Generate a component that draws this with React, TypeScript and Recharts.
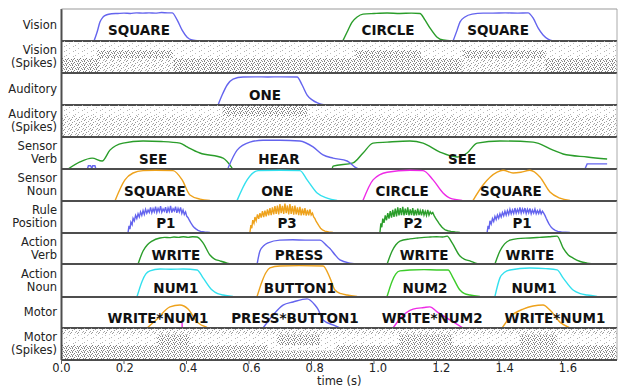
import {
  Line,
  LineChart,
  ReferenceArea,
  ReferenceDot,
  ReferenceLine,
  XAxis,
  YAxis,
} from "recharts";

type Pt = [number, number];
type Word = [number, string];
// [t start, t end, first neuron row, last neuron row, density level]
type Block = [number, number, number, number, number];

const W = 619;
const X_MAX = 1.7776;
const TICKS = [0, 0.2, 0.4, 0.6, 0.8, 1.0, 1.2, 1.4, 1.6];
// tick labels drift slightly right of their ticks in the reference (px per second)
const LABEL_DRIFT = 4;

const BLUE = "#6464ee";
const GREEN = "#2a9d2a";
const ORANGE = "#eea21c";
const CYAN = "#33e0ee";
const MAGENTA = "#ee2ae6";
const LIME = "#3ccc2a";

// ---- Vision ----
const visionSquare1: Pt[] = [[0.104,0],[0.114,0.28],[0.123,0.59],[0.133,0.75],[0.145,0.82],[0.16,0.85],[0.18,0.86],[0.2,0.87],[0.22,0.86],[0.24,0.88],[0.26,0.87],[0.28,0.88],[0.3,0.87],[0.32,0.89],[0.34,0.88],[0.354,0.88],[0.37,0.66],[0.386,0.34],[0.402,0.12],[0.418,0.03],[0.44,0]];
const visionCircle: Pt[] = [[0.9,0],[0.914,0.28],[0.93,0.59],[0.946,0.75],[0.965,0.84],[1.0,0.86],[1.042,0.875],[1.083,0.86],[1.12,0.87],[1.147,0.86],[1.163,0.66],[1.179,0.41],[1.202,0.12],[1.221,0.03],[1.25,0]];
const visionSquare2: Pt[] = [[1.253,0],[1.266,0.34],[1.275,0.59],[1.291,0.75],[1.314,0.84],[1.349,0.87],[1.38,0.87],[1.42,0.88],[1.46,0.87],[1.493,0.88],[1.509,0.72],[1.525,0.41],[1.541,0.19],[1.557,0.06],[1.573,0]];
const visionWords: Word[] = [[0.248,"SQUARE"],[1.045,"CIRCLE"],[1.397,"SQUARE"]];

// ---- Auditory ----
const auditoryOne: Pt[] = [[0.501,0],[0.514,0.31],[0.53,0.625],[0.549,0.81],[0.581,0.875],[0.62,0.88],[0.66,0.875],[0.7,0.88],[0.754,0.875],[0.77,0.625],[0.786,0.31],[0.802,0.16],[0.821,0.06],[0.843,0]];
const auditoryWords: Word[] = [[0.651,"ONE"]];

// ---- Sensor Verb ----
const svSee1: Pt[] = [[0.021,0],[0.059,0.22],[0.098,0.34],[0.13,0.25],[0.155,0.59],[0.197,0.81],[0.261,0.875],[0.32,0.86],[0.379,0.81],[0.402,0.69],[0.443,0.5],[0.517,0.34],[0.546,0.03]];
const svSee2: Pt[] = [[0.866,0],[0.869,0.09],[0.933,0.19],[0.965,0.5],[0.997,0.81],[1.042,0.84],[1.115,0.875],[1.157,0.81],[1.211,0.53],[1.266,0.375],[1.298,0.5],[1.33,0.81],[1.403,0.875],[1.509,0.84],[1.573,0.59],[1.605,0.47],[1.682,0.375],[1.746,0.31]];
const svHear: Pt[] = [[0.533,0.03],[0.562,0.59],[0.603,0.84],[0.645,0.9],[0.7,0.9],[0.763,0.875],[0.805,0.69],[0.837,0.44],[0.869,0.34],[0.914,0.25],[0.939,0.06],[0.95,0]];
const svBlip: Pt[] = [[0.083,0],[0.086,0.1],[0.093,0.1],[0.097,0.02],[0.1,0.1],[0.107,0.1],[0.11,0]];
const svTail: Pt[] = [[1.675,0],[1.682,0.16],[1.746,0.16]];
const sensorVerbWords: Word[] = [[0.293,"SEE"],[0.696,"HEAR"],[1.282,"SEE"]];

// ---- Sensor Noun ----
const snSquare1: Pt[] = [[0.171,0],[0.203,0.66],[0.229,0.875],[0.261,0.95],[0.3,0.96],[0.357,0.95],[0.386,0.66],[0.411,0.19],[0.443,0.06],[0.475,0.02]];
const snOne: Pt[] = [[0.562,0.02],[0.594,0.66],[0.629,0.95],[0.7,0.96],[0.763,0.95],[0.786,0.66],[0.818,0.25],[0.85,0.09],[0.882,0.02]];
const snCircle: Pt[] = [[0.965,0.02],[0.997,0.66],[1.042,0.9],[1.115,0.96],[1.157,0.95],[1.189,0.66],[1.221,0.25],[1.243,0.09],[1.282,0.02]];
const snSquare2: Pt[] = [[1.317,0.02],[1.349,0.5],[1.394,0.9],[1.413,0.96],[1.445,0.875],[1.47,0.9],[1.499,0.96],[1.531,0.75],[1.563,0.28],[1.595,0.09],[1.627,0.02]];
const sensorNounWords: Word[] = [[0.299,"SQUARE"],[0.69,"ONE"],[1.09,"CIRCLE"],[1.438,"SQUARE"]];

// ---- Rule Position (noisy) ----
const rpP1a: Pt[] = [[0.213,0.02],[0.216,0.22],[0.219,0.12],[0.222,0.34],[0.226,0.26],[0.229,0.46],[0.233,0.38],[0.237,0.55],[0.241,0.45],[0.245,0.6],[0.249,0.5],[0.253,0.66],[0.257,0.55],[0.261,0.7],[0.265,0.58],[0.269,0.74],[0.273,0.62],[0.277,0.72],[0.281,0.64],[0.285,0.8],[0.289,0.63],[0.293,0.76],[0.297,0.66],[0.301,0.82],[0.305,0.64],[0.309,0.77],[0.313,0.67],[0.317,0.84],[0.321,0.65],[0.325,0.75],[0.329,0.68],[0.333,0.81],[0.337,0.62],[0.341,0.78],[0.345,0.67],[0.349,0.85],[0.353,0.64],[0.357,0.76],[0.361,0.69],[0.365,0.82],[0.369,0.63],[0.373,0.77],[0.377,0.66],[0.381,0.8],[0.385,0.61],[0.389,0.72],[0.393,0.58],[0.397,0.66],[0.401,0.52],[0.405,0.48],[0.409,0.4],[0.413,0.33],[0.417,0.27],[0.421,0.21],[0.426,0.16],[0.431,0.12],[0.437,0.08],[0.445,0.05],[0.458,0.03],[0.475,0.02]];
const rpP3: Pt[] = [[0.603,0.02],[0.606,0.25],[0.609,0.15],[0.612,0.4],[0.616,0.3],[0.619,0.5],[0.623,0.38],[0.627,0.58],[0.631,0.44],[0.635,0.62],[0.639,0.48],[0.643,0.68],[0.647,0.5],[0.651,0.7],[0.655,0.52],[0.659,0.74],[0.663,0.55],[0.667,0.78],[0.671,0.56],[0.675,0.8],[0.679,0.58],[0.683,0.84],[0.687,0.6],[0.691,0.86],[0.695,0.58],[0.699,0.9],[0.703,0.62],[0.707,0.85],[0.711,0.6],[0.715,0.92],[0.719,0.62],[0.723,0.86],[0.727,0.58],[0.731,0.9],[0.735,0.6],[0.739,0.84],[0.743,0.57],[0.747,0.86],[0.751,0.58],[0.755,0.8],[0.759,0.56],[0.763,0.82],[0.767,0.55],[0.771,0.76],[0.775,0.56],[0.779,0.78],[0.783,0.54],[0.787,0.72],[0.791,0.55],[0.795,0.74],[0.799,0.56],[0.803,0.62],[0.807,0.5],[0.811,0.45],[0.815,0.36],[0.819,0.3],[0.824,0.22],[0.829,0.15],[0.835,0.1],[0.843,0.06],[0.855,0.03],[0.869,0.02]];
const rpP2: Pt[] = [[1.019,0.02],[1.022,0.3],[1.025,0.18],[1.028,0.45],[1.032,0.32],[1.036,0.55],[1.04,0.4],[1.044,0.62],[1.048,0.45],[1.052,0.68],[1.056,0.48],[1.06,0.72],[1.064,0.5],[1.068,0.76],[1.072,0.52],[1.076,0.8],[1.08,0.55],[1.084,0.78],[1.088,0.56],[1.092,0.82],[1.096,0.55],[1.1,0.76],[1.104,0.57],[1.108,0.8],[1.112,0.55],[1.116,0.74],[1.12,0.56],[1.124,0.78],[1.128,0.54],[1.132,0.72],[1.136,0.55],[1.14,0.76],[1.144,0.56],[1.148,0.7],[1.152,0.55],[1.156,0.74],[1.16,0.56],[1.164,0.68],[1.168,0.55],[1.172,0.72],[1.176,0.56],[1.18,0.66],[1.184,0.6],[1.188,0.64],[1.192,0.55],[1.196,0.48],[1.2,0.42],[1.204,0.36],[1.208,0.3],[1.212,0.25],[1.217,0.19],[1.222,0.14],[1.228,0.1],[1.236,0.07],[1.246,0.05],[1.26,0.03],[1.275,0.02]];
const rpP1b: Pt[] = [[1.362,0.02],[1.365,0.22],[1.368,0.12],[1.371,0.38],[1.375,0.28],[1.379,0.45],[1.383,0.36],[1.387,0.52],[1.391,0.42],[1.395,0.56],[1.399,0.46],[1.403,0.6],[1.407,0.5],[1.411,0.64],[1.415,0.54],[1.419,0.68],[1.423,0.56],[1.427,0.7],[1.431,0.58],[1.435,0.74],[1.439,0.6],[1.443,0.72],[1.447,0.61],[1.451,0.78],[1.455,0.62],[1.459,0.74],[1.463,0.63],[1.467,0.8],[1.471,0.62],[1.475,0.75],[1.479,0.64],[1.483,0.78],[1.487,0.61],[1.491,0.74],[1.495,0.63],[1.499,0.77],[1.503,0.6],[1.507,0.72],[1.511,0.62],[1.515,0.75],[1.519,0.6],[1.523,0.7],[1.527,0.61],[1.531,0.72],[1.535,0.6],[1.539,0.68],[1.543,0.62],[1.547,0.55],[1.551,0.46],[1.555,0.38],[1.559,0.3],[1.563,0.24],[1.568,0.17],[1.574,0.12],[1.58,0.08],[1.588,0.05],[1.6,0.03],[1.627,0.02]];
const ruleWords: Word[] = [[0.334,"P1"],[0.722,"P3"],[1.125,"P2"],[1.474,"P1"]];

// ---- Action Verb ----
const avWrite1: Pt[] = [[0.245,0],[0.261,0.42],[0.275,0.62],[0.29,0.74],[0.315,0.84],[0.33,0.86],[0.345,0.85],[0.36,0.87],[0.375,0.86],[0.39,0.88],[0.405,0.86],[0.42,0.88],[0.434,0.87],[0.453,0.68],[0.475,0.29],[0.49,0.16],[0.507,0.1],[0.53,0.03],[0.549,0]];
const avPress: Pt[] = [[0.626,0],[0.635,0.42],[0.648,0.6],[0.661,0.68],[0.699,0.77],[0.74,0.78],[0.78,0.77],[0.827,0.77],[0.85,0.58],[0.859,0.5],[0.875,0.3],[0.891,0.13],[0.923,0.03],[0.955,0]];
const avWrite2: Pt[] = [[1.042,0],[1.058,0.42],[1.07,0.62],[1.083,0.74],[1.115,0.81],[1.14,0.84],[1.16,0.86],[1.18,0.87],[1.2,0.88],[1.22,0.87],[1.234,0.9],[1.25,0.68],[1.275,0.26],[1.29,0.15],[1.307,0.1],[1.325,0.03],[1.339,0]];
const avWrite3: Pt[] = [[1.387,0],[1.403,0.42],[1.418,0.65],[1.435,0.77],[1.46,0.82],[1.499,0.84],[1.53,0.86],[1.56,0.88],[1.586,0.9],[1.605,0.52],[1.621,0.3],[1.637,0.19],[1.66,0.08],[1.682,0.03],[1.714,0]];
const actionVerbWords: Word[] = [[0.366,"WRITE"],[0.76,"PRESS"],[1.16,"WRITE"],[1.499,"WRITE"]];

// ---- Action Noun ----
const anNum1a: Pt[] = [[0.242,0.02],[0.258,0.48],[0.27,0.7],[0.283,0.79],[0.315,0.85],[0.35,0.84],[0.39,0.85],[0.434,0.82],[0.453,0.58],[0.482,0.21],[0.5,0.1],[0.517,0.06],[0.549,0.02]];
const anButton1: Pt[] = [[0.626,0.02],[0.642,0.48],[0.655,0.75],[0.667,0.88],[0.699,0.94],[0.76,0.95],[0.837,0.94],[0.859,0.58],[0.875,0.21],[0.895,0.1],[0.914,0.06],[0.946,0.02]];
const anNum2: Pt[] = [[1.042,0.02],[1.058,0.48],[1.07,0.7],[1.083,0.79],[1.115,0.82],[1.16,0.83],[1.2,0.82],[1.237,0.82],[1.253,0.58],[1.275,0.21],[1.29,0.1],[1.307,0.06],[1.339,0.02]];
const anNum1b: Pt[] = [[1.387,0.02],[1.403,0.58],[1.418,0.75],[1.435,0.82],[1.499,0.88],[1.55,0.86],[1.586,0.82],[1.605,0.58],[1.637,0.21],[1.66,0.1],[1.682,0.06],[1.714,0.02]];
const actionNounWords: Word[] = [[0.366,"NUM1"],[0.763,"BUTTON1"],[1.163,"NUM2"],[1.512,"NUM1"]];

// ---- Motor ----
const mWriteNum1a: Pt[] = [[0.274,0],[0.306,0.29],[0.347,0.68],[0.379,0.74],[0.405,0.61],[0.434,0.19],[0.466,0.02]];
const mPressButton1: Pt[] = [[0.645,0],[0.677,0.42],[0.709,0.74],[0.741,0.84],[0.786,0.94],[0.811,0.74],[0.821,0.6],[0.837,0.26],[0.869,0.1],[0.891,0]];
const mWriteNum2: Pt[] = [[1.061,0],[1.083,0.3],[1.125,0.61],[1.16,0.66],[1.179,0.68],[1.202,0.52],[1.243,0.26],[1.285,0]];
const mWriteNum1b: Pt[] = [[1.41,0],[1.435,0.35],[1.477,0.61],[1.541,0.74],[1.563,0.58],[1.595,0.19],[1.627,0]];
const mSpike: Pt[] = [[0.386,0],[0.386,0.16]];
const motorWords: Word[] = [[0.309,"WRITE*NUM1"],[0.747,"PRESS*BUTTON1"],[1.186,"WRITE*NUM2"],[1.579,"WRITE*NUM1"]];

// ---- Spike rasters (density blocks, rows 0..100) ----
const visionSpikes: Block[] = [
  [0, X_MAX, 72, 100, 1],
  [0, 0.114, 47, 72, 1], [0.114, 0.357, 47, 72, 3], [0.357, 0.94, 47, 72, 1],
  [0.94, 1.15, 47, 72, 3], [1.15, 1.285, 47, 72, 1], [1.285, 1.55, 47, 72, 3], [1.55, X_MAX, 47, 72, 1],
  [0, 0.12, 3, 47, 3], [0.12, 0.36, 3, 47, 2], [0.36, 1.28, 3, 47, 3], [1.28, 1.55, 3, 47, 2], [1.55, X_MAX, 3, 47, 3],
];
const auditorySpikes: Block[] = [
  [0, 0.516, 66, 100, 1], [0.516, 0.785, 66, 100, 3], [0.785, X_MAX, 66, 100, 1],
  [0, X_MAX, 3, 66, 2],
];
const motorSpikes: Block[] = [
  [0, X_MAX, 80, 100, 2],
  [0, 0.306, 47, 80, 1], [0.306, 0.41, 47, 80, 3], [0.41, 0.69, 47, 80, 1], [0.69, 0.827, 47, 80, 3],
  [0.827, 1.08, 47, 80, 1], [1.08, 1.25, 47, 80, 3], [1.25, 1.467, 47, 80, 1], [1.467, 1.587, 47, 80, 3], [1.587, X_MAX, 47, 80, 1],
  [0, 0.66, 3, 47, 3], [0.66, 0.88, 30, 47, 1], [0.66, 0.88, 3, 30, 3], [0.88, X_MAX, 3, 47, 3],
];

type Series = { data: Pt[]; color: string; noisy?: boolean };
type PanelCfg = {
  label: string[];
  series?: Series[];
  words?: Word[];
  wordLevel?: number;
  spikes?: Block[];
};

const PANELS: PanelCfg[] = [
  { label: ["Vision"], wordLevel: 0.34, words: visionWords, series: [
    { data: visionSquare1, color: BLUE }, { data: visionCircle, color: GREEN }, { data: visionSquare2, color: BLUE }] },
  { label: ["Vision", "(Spikes)"], spikes: visionSpikes },
  { label: ["Auditory"], wordLevel: 0.31, words: auditoryWords, series: [{ data: auditoryOne, color: BLUE }] },
  { label: ["Auditory", "(Spikes)"], spikes: auditorySpikes },
  { label: ["Sensor", "Verb"], wordLevel: 0.31, words: sensorVerbWords, series: [
    { data: svSee1, color: GREEN }, { data: svSee2, color: GREEN }, { data: svHear, color: BLUE },
    { data: svBlip, color: BLUE, noisy: true }, { data: svTail, color: BLUE, noisy: true }] },
  { label: ["Sensor", "Noun"], wordLevel: 0.31, words: sensorNounWords, series: [
    { data: snSquare1, color: ORANGE }, { data: snOne, color: CYAN }, { data: snCircle, color: MAGENTA }, { data: snSquare2, color: ORANGE }] },
  { label: ["Rule", "Position"], wordLevel: 0.31, words: ruleWords, series: [
    { data: rpP1a, color: BLUE, noisy: true }, { data: rpP3, color: ORANGE, noisy: true },
    { data: rpP2, color: GREEN, noisy: true }, { data: rpP1b, color: BLUE, noisy: true }] },
  { label: ["Action", "Verb"], wordLevel: 0.29, words: actionVerbWords, series: [
    { data: avWrite1, color: GREEN }, { data: avPress, color: BLUE }, { data: avWrite2, color: GREEN }, { data: avWrite3, color: GREEN }] },
  { label: ["Action", "Noun"], wordLevel: 0.27, words: actionNounWords, series: [
    { data: anNum1a, color: CYAN }, { data: anButton1, color: ORANGE }, { data: anNum2, color: LIME }, { data: anNum1b, color: CYAN }] },
  { label: ["Motor"], wordLevel: 0.32, words: motorWords, series: [
    { data: mWriteNum1a, color: ORANGE }, { data: mPressButton1, color: BLUE }, { data: mWriteNum2, color: MAGENTA },
    { data: mWriteNum1b, color: ORANGE }, { data: mSpike, color: MAGENTA, noisy: true }] },
  { label: ["Motor", "(Spikes)"], spikes: motorSpikes },
];

const PANEL_TOPS = [9, 41, 73, 105, 137, 169, 201, 233, 264, 297, 328, 360];
const AXIS_H = 27;
const MARGIN = { top: 0, right: 2, bottom: 0, left: 61.5 };
const SPINE = "#4d4d4d";
const DENSITY = ["", "url(#spk-sparse)", "url(#spk-medium)", "url(#spk-dense)"];
const EDGE = [{ t: 0, v: 0 }, { t: X_MAX, v: 0 }];

const toRows = (pts: Pt[]) => pts.map(([t, v]) => ({ t, v }));

function TimeTick(props: any) {
  const { x, y, payload } = props;
  return (
    <text
      x={x + payload.value * LABEL_DRIFT}
      y={y}
      dy="0.71em"
      textAnchor="middle"
      fontSize={11.5}
      fill="#222"
      fontFamily="DejaVu Sans"
    >
      {Number(payload.value).toFixed(1)}
    </text>
  );
}

function Panel({ cfg, index }: { cfg: PanelCfg; index: number }) {
  const top = PANEL_TOPS[index];
  const h = PANEL_TOPS[index + 1] - top;
  const isFirst = index === 0;
  const isLast = index === PANELS.length - 1;
  const chartH = isLast ? h + AXIS_H : h;
  const yMax = cfg.spikes ? 100 : 1;

  return (
    <>
      <div
        style={{
          position: "absolute",
          left: 0,
          top,
          width: 57,
          height: h,
          display: "flex",
          flexDirection: "column",
          justifyContent: "center",
          alignItems: "flex-end",
          fontSize: 11.5,
          lineHeight: "13px",
          color: "#222",
        }}
      >
        {cfg.label.map((l) => (
          <div key={l}>{l}</div>
        ))}
      </div>
      <div style={{ position: "absolute", left: 0, top, width: W, height: chartH }}>
        <LineChart width={W} height={chartH} margin={MARGIN} data={EDGE}>
          <YAxis hide domain={[0, yMax]} allowDataOverflow />
          {isLast ? (
            <XAxis
              dataKey="t"
              type="number"
              domain={[0, X_MAX]}
              allowDataOverflow
              ticks={TICKS}
              height={AXIS_H}
              tickSize={4}
              tickMargin={0}
              tick={<TimeTick />}
              axisLine={{ stroke: SPINE, strokeWidth: 2 }}
              tickLine={{ stroke: "#666" }}
            />
          ) : (
            <XAxis
              dataKey="t"
              type="number"
              domain={[0, X_MAX]}
              allowDataOverflow
              ticks={TICKS}
              mirror
              tick={false}
              tickSize={4}
              axisLine={{ stroke: SPINE, strokeWidth: 2 }}
              tickLine={{ stroke: "#666" }}
            />
          )}
          {isLast && (
            <XAxis
              xAxisId="in"
              dataKey="t"
              type="number"
              domain={[0, X_MAX]}
              allowDataOverflow
              ticks={TICKS}
              mirror
              tick={false}
              tickSize={4}
              axisLine={false}
              tickLine={{ stroke: "#666" }}
            />
          )}
          <XAxis
            xAxisId="top"
            orientation="top"
            dataKey="t"
            type="number"
            domain={[0, X_MAX]}
            allowDataOverflow
            ticks={TICKS}
            mirror
            tick={false}
            tickSize={4}
            axisLine={isFirst ? { stroke: "#999", strokeWidth: 1 } : false}
            tickLine={{ stroke: "#666" }}
          />
          {(cfg.spikes ?? []).map(([t0, t1, r0, r1, lvl], i) => (
            <ReferenceArea
              key={`b${i}`}
              x1={t0}
              x2={t1}
              y1={r0}
              y2={r1}
              fill={DENSITY[lvl]}
              fillOpacity={1}
              stroke="none"
              ifOverflow="extendDomain"
            />
          ))}
          <Line dataKey="v" stroke="none" dot={false} isAnimationActive={false} />
          {(cfg.series ?? []).map((s, i) => (
            <Line
              key={`s${i}`}
              data={toRows(s.data)}
              dataKey="v"
              type={s.noisy ? "linear" : "monotone"}
              stroke={s.color}
              strokeWidth={1.4}
              dot={false}
              activeDot={false}
              isAnimationActive={false}
            />
          ))}
          <ReferenceLine x={0} stroke={SPINE} strokeWidth={2} />
          <ReferenceLine x={X_MAX} stroke="#aaa" strokeWidth={1} />
          {(cfg.words ?? []).map(([t, w]) => (
            <ReferenceDot
              key={`${w}${t}`}
              x={t}
              y={cfg.wordLevel ?? 0.3}
              r={0}
              fill="none"
              stroke="none"
              label={{
                value: w,
                position: "center",
                fill: "#111",
                fontSize: 13.5,
                fontWeight: 700,
                fontFamily: "DejaVu Sans",
              }}
            />
          ))}
        </LineChart>
      </div>
    </>
  );
}

export default function App() {
  return (
    <div
      style={{
        position: "absolute",
        left: 0,
        top: 0,
        width: W,
        height: 387,
        background: "#fff",
        fontFamily: "DejaVu Sans",
        overflow: "hidden",
      }}
    >
      <style>{"svg.recharts-surface{overflow:visible}"}</style>
      <svg width={0} height={0} style={{ position: "absolute" }}>
        <defs>
          <pattern id="spk-sparse" width={9} height={5} patternUnits="userSpaceOnUse">
            <rect x={1} y={0} width={1} height={1} fill="#b4b4b4" />
            <rect x={6} y={2} width={1} height={1} fill="#c0c0c0" />
            <rect x={3} y={4} width={1} height={1} fill="#b4b4b4" />
          </pattern>
          <pattern id="spk-medium" width={7} height={5} patternUnits="userSpaceOnUse">
            <rect x={0} y={0} width={1} height={1} fill="#999" />
            <rect x={4} y={1} width={1} height={1} fill="#a4a4a4" />
            <rect x={2} y={2} width={1} height={1} fill="#999" />
            <rect x={6} y={3} width={1} height={1} fill="#a4a4a4" />
            <rect x={1} y={4} width={1} height={1} fill="#999" />
            <rect x={5} y={4} width={1} height={1} fill="#b0b0b0" />
          </pattern>
          <pattern id="spk-dense" width={6} height={4} patternUnits="userSpaceOnUse">
            <rect x={0} y={0} width={1} height={1} fill="#7a7a7a" />
            <rect x={4} y={0} width={1} height={1} fill="#888" />
            <rect x={2} y={1} width={1} height={1} fill="#7a7a7a" />
            <rect x={1} y={2} width={1} height={1} fill="#888" />
            <rect x={5} y={2} width={1} height={1} fill="#7a7a7a" />
            <rect x={3} y={3} width={1} height={1} fill="#888" />
            <rect x={0} y={3} width={1} height={1} fill="#9a9a9a" />
          </pattern>
        </defs>
      </svg>
      {PANELS.map((p, i) => (
        <Panel key={i} cfg={p} index={i} />
      ))}
      <div
        style={{
          position: "absolute",
          left: 61.5,
          width: 555.5,
          top: 375,
          textAlign: "center",
          fontSize: 11.5,
          lineHeight: "13px",
          color: "#222",
        }}
      >
        time (s)
      </div>
    </div>
  );
}
